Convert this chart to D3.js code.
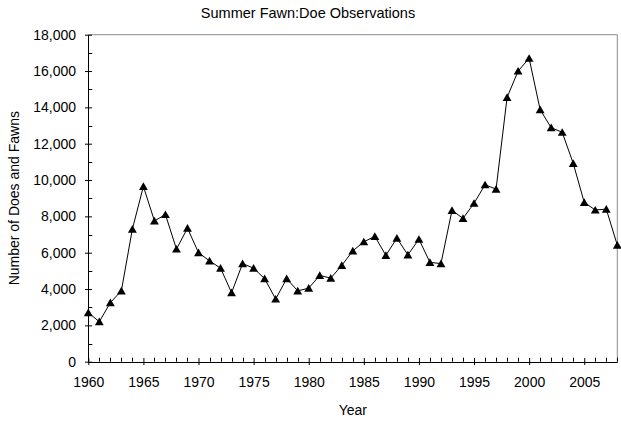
<!DOCTYPE html>
<html>
<head>
<meta charset="utf-8">
<script src="https://cdn.jsdelivr.net/npm/d3@7"></script>
<style>
  body { margin: 0; background: #fff; }
  text { font-family: "Liberation Sans", Arial, sans-serif; fill: #000; }
</style>
</head>
<body>
<div id="chart"></div>
<script>
// data
const years = d3.range(1960, 2009)
const counts = [
    2700, 2200, 3250, 3900, 7300, 9650, 7750, 8100, 6200, 7350,
    6000, 5550, 5150, 3800, 5400, 5150, 4570, 3450, 4570, 3900,
    4050, 4750, 4600, 5300, 6100, 6600, 6900, 5850, 6800, 5880,
    6740, 5470, 5400, 8330, 7890, 8720, 9740, 9500, 14550, 16000,
    16700, 13870, 12880, 12630, 10920, 8770, 8350, 8400, 6420
]
const xTicks = [1960, 1965, 1970, 1975, 1980, 1985, 1990, 1995, 2000, 2005]
const yTicks = [0, 2000, 4000, 6000, 8000, 10000, 12000, 14000, 16000, 18000]

const width = 621,
    height = 423,
    margin = {top: 34.7, right: 3.7, bottom: 61.3, left: 88.3};

const svg = d3.select("#chart")
    .append("svg")
    .attr("width", width)
    .attr("height", height)

const x = d3.scaleLinear()
    .domain([1960, 2008])
    .range([margin.left, width - margin.right])

const y = d3.scaleLinear()
    .domain([0, 18000])
    .range([height - margin.bottom, margin.top])

// gray frame on top and right
svg.append("path")
    .attr("d", `M${x(1960)},${y(18000)}H${x(2008)}V${y(0)}`)
    .attr("fill", "none")
    .attr("stroke", "#8c8c8c")
    .attr("stroke-width", 1)

// minor ticks
const yMinor = d3.range(1000, 18000, 2000)
svg.append("g")
    .selectAll("line")
    .data(yMinor)
    .join("line")
    .attr("x1", x(1960))
    .attr("x2", x(1960) + 4)
    .attr("y1", d => Math.round(y(d)) + 0.5)
    .attr("y2", d => Math.round(y(d)) + 0.5)
    .attr("stroke", "#000")

const xMinor = years.filter(d => d % 5 != 0)
svg.append("g")
    .selectAll("line")
    .data(xMinor)
    .join("line")
    .attr("x1", d => Math.round(x(d)) + 0.5)
    .attr("x2", d => Math.round(x(d)) + 0.5)
    .attr("y1", y(0))
    .attr("y2", y(0) - 4)
    .attr("stroke", "#000")

// axes
const yAxis = d3.axisLeft(y)
    .tickValues(yTicks)
    .tickFormat(d3.format(","))
    .tickSizeInner(-4)
    .tickSizeOuter(0)
    .tickPadding(12)

svg.append("g")
    .attr("transform", `translate(${Math.round(x(1960))},0)`)
    .call(yAxis)
    .call(g => g.selectAll(".tick line").attr("x1", -3))
    .call(g => g.select(".domain").attr("stroke", "#000"))
    .selectAll("text")
    .style("font-size", "14px")

const xAxis = d3.axisBottom(x)
    .tickValues(xTicks)
    .tickFormat(d3.format("d"))
    .tickSizeInner(3)
    .tickSizeOuter(0)
    .tickPadding(12)

svg.append("g")
    .attr("transform", `translate(0,${Math.round(y(0))})`)
    .call(xAxis)
    .call(g => g.selectAll(".tick line").attr("y1", -4))
    .call(g => g.select(".domain").attr("stroke", "#000"))
    .selectAll("text")
    .style("font-size", "14px")

// line + markers
const line = d3.line()
    .x((d, i) => x(years[i]))
    .y(d => y(d))

svg.append("path")
    .datum(counts)
    .attr("d", line)
    .attr("fill", "none")
    .attr("stroke", "#000")
    .attr("stroke-width", 1)

const tri = d3.symbol().type(d3.symbolTriangle).size(34)
svg.append("g")
    .selectAll("path")
    .data(counts)
    .join("path")
    .attr("d", tri)
    .attr("transform", (d, i) => `translate(${x(years[i])},${y(d) + 1})`)
    .attr("fill", "#000")

// titles
svg.append("text")
    .attr("x", 308)
    .attr("y", 18)
    .attr("text-anchor", "middle")
    .style("font-size", "14.5px")
    .text("Summer Fawn:Doe Observations")

svg.append("text")
    .attr("x", x(1984))
    .attr("y", 415)
    .attr("text-anchor", "middle")
    .style("font-size", "14px")
    .text("Year")

svg.append("text")
    .attr("transform", `translate(19,${(y(0) + y(18000)) / 2}) rotate(-90)`)
    .attr("text-anchor", "middle")
    .style("font-size", "14px")
    .text("Number of Does and Fawns")
</script>
</body>
</html>
